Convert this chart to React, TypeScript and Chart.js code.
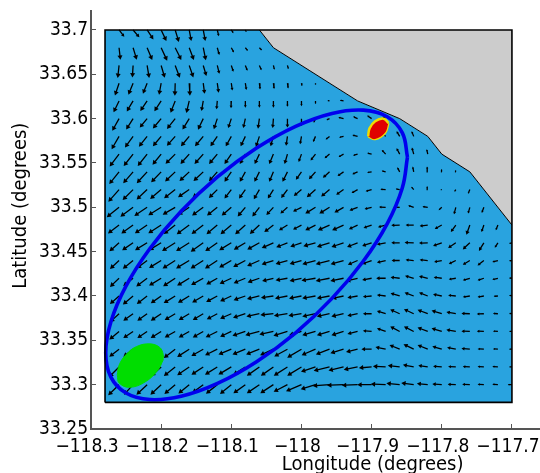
import React, { useEffect, useRef } from "react";
import { Chart, registerables } from "chart.js";

Chart.register(...registerables);

const lons = [
  -118.26, -118.24, -118.22, -118.2, -118.18, -118.16, -118.14, -118.12, -118.1, -118.08,
  -118.06, -118.04, -118.02, -118.0, -117.98, -117.96, -117.94, -117.92, -117.9, -117.88,
  -117.86, -117.84, -117.82, -117.8, -117.78, -117.76, -117.74, -117.72, -117.7,
];
const lats = [
  33.7, 33.68, 33.66, 33.64, 33.62, 33.6, 33.58, 33.56, 33.54, 33.52, 33.5,
  33.48, 33.46, 33.44, 33.42, 33.4, 33.38, 33.36, 33.34, 33.32, 33.3,
];

// Eastward component of the current, one list per latitude row
const uRows = [
  [5, 6, 6, 5, 3.5, 2, 2, 1.5, 2, 1],
  [1.3, 3.5, 5, 6, 6, 4.5, 2.5, 2, 2.5, 2.5, 2.5],
  [-1.3, -0.7, 2, 3.5, 4.5, 4, 3, 2, 2, 2, 2, 1, 1],
  [-4, -4.5, -4, -2, -0.3, 0.7, 1.3, 1.3, 1, 1, 0.7, 0.7, 0.7, 0.5, 0],
  [-5.3, -6, -6.5, -6.5, -4.5, -2.7, -1.7, -0.7, -0.3, 0, 0, 0, 0, 0, 0, -2, -3.5],
  [-6.7, -6.7, -7, -8, -8, -6.5, -5, -3.3, -3, -2, -1.3, -0.7, 0, 0, -1.7, -3, -5, -4.3, -4.3, -3],
  [-7.5, -8, -8, -8, -8, -8, -8, -6.5, -5.3, -4.5, -3.3, -2.7, -1.3, -1.3, -2.3, -3.7, -4.3, -5, -4, -1.3, -3, -2],
  [-9.5, -9.5, -9.5, -8.5, -9.5, -8.5, -8.5, -8, -6.5, -5.3, -4.5, -4, -2.7, -2.7, -4.7, -4.7, -4.7, -4.3, -4.3, -3.7, -3, -1.7, -1],
  [-10, -10, -10.5, -10, -10, -9.5, -9.5, -8, -6.5, -5.3, -4.7, -4, -4.7, -5.3, -6.3, -6.3, -5.7, -5, -4.3, -3.7, -2.3, -1, -0.7, -0.3, -0.3],
  [-11, -10.5, -10.5, -11, -11, -11, -10.5, -8, -6.5, -6, -5.3, -5.3, -6, -7.3, -8.3, -8, -7, -5.7, -5.7, -5, -3.7, -2.3, -0.7, -0.5, -1.3, -1.7],
  [-12.5, -13, -13, -13, -12.5, -11, -11, -10, -9.3, -7.3, -6.7, -6.7, -6.7, -8, -9.7, -9.7, -8.7, -7.7, -6.7, -6.3, -5.7, -5.3, -5, -3, -1.7, -1.7, -2],
  [-11, -11.7, -12.3, -13, -11.5, -12.7, -11.7, -10.7, -10.7, -10, -9.3, -8.7, -8, -8, -9.7, -11.3, -11, -8.3, -7.7, -7.3, -8, -7.7, -7.7, -6.7, -4.7, -3.3, -2.3, -2],
  [-9.3, -10.7, -12, -12, -13.3, -13.3, -12.7, -12, -12, -11.3, -12, -11.3, -10.7, -10.7, -11.7, -12.3, -11.7, -10, -9, -8.3, -8, -8.7, -8.3, -8.3, -7.3, -6.7, -4.7, -3, -2.7],
  [-8.7, -10, -10, -12, -12.7, -13.3, -12.7, -12.3, -12, -12, -12, -11.3, -11.3, -11.3, -13, -13.7, -12.7, -9.3, -9, -8.3, -7.7, -7.7, -7.7, -7.3, -6.7, -6.7, -6, -5.3, -2.7],
  [-8.7, -9.5, -10.7, -12, -12, -12, -12, -10.7, -11.3, -11.3, -11.3, -10.7, -11.3, -11.3, -14, -13.7, -13, -11, -9, -9, -8.7, -8.3, -8.3, -7.7, -6.7, -6.7, -6, -5.3, -2.7],
  [-8.7, -10, -10, -10, -11.3, -11, -10.7, -10.7, -10.7, -11.3, -12, -12, -12, -12, -13, -12.3, -11, -9.7, -8.3, -8.3, -8.7, -8.7, -8.3, -8.3, -7.3, -6.7, -6, -4, -2.7],
  [-8.7, -9.3, -9.3, -10, -10, -10, -10, -10, -10.7, -12, -12.7, -12.7, -13.3, -12.7, -13, -12.3, -11.7, -9.7, -8.3, -8.3, -9, -9.3, -9.7, -9.7, -9, -8, -6.7, -4.7, -2.7],
  [-9.3, -9.3, -9.3, -10, -10, -10, -10, -11.3, -10.7, -12.7, -14, -14, -14, -12, -13, -12.3, -11.7, -9.7, -8.3, -8.3, -9, -9.3, -9.7, -9.7, -9, -8, -6.7, -4.7, -2.7],
  [-9.3, -9.3, -9.3, -9.3, -11.3, -12, -11.7, -12, -12.7, -12.7, -13.3, -13.3, -13.3, -14.7, -14, -13.7, -13, -11, -9.7, -9.7, -9.7, -9.7, -9.7, -9, -8.3, -8, -6, -4.7, -2.7],
  [-10, -10, -10, -10, -11.3, -12, -11.7, -12.3, -13, -12, -12.7, -12.7, -14, -14.7, -14.7, -16.3, -15.3, -13.7, -12.3, -12.3, -11.3, -10.3, -9, -8.3, -7.3, -6.7, -6, -5.3, -2.7],
  [-11, -9, -10.7, -10.7, -10.7, -10.7, -10.7, -11.3, -11.3, -12, -12.7, -13.3, -14, -16, -15, -17.3, -17, -16, -14.3, -15, -13, -12, -10.3, -9, -7.7, -7.3, -6, -5.3, -4],
];

// Northward component of the current, one list per latitude row
const vRows = [
  [-6.5, -7, -9, -10.5, -11.5, -10.5, -10.5, -6, -3, -2],
  [-11.5, -11.5, -12, -13, -12, -12, -12, -7, -4.5, -3, -2.5],
  [-12, -11.5, -12, -12, -12, -11.5, -10, -8, -6, -5, -4.5, -4, -3.5],
  [-12, -11, -10, -11, -12, -12, -10, -9, -7, -6.5, -6, -5.5, -5, -2.7, -1.7],
  [-11, -10, -9.5, -10, -11.5, -11.5, -9.5, -8, -7, -6.5, -6.5, -6.5, -5.5, -5, -3, 0.5, 0.7],
  [-12, -10.5, -8.5, -9.5, -10, -10.5, -10.5, -10, -9, -9, -9.5, -9, -8.5, -7, -4, -1.3, 1.3, 2, 3, 2],
  [-13, -11, -10, -9.5, -9, -9.5, -9.5, -9.5, -9.5, -9.5, -10, -9.5, -9, -7.5, -5.3, -3, -1, 1.3, 1.5, 1.3, 5, 5],
  [-12.5, -12, -12, -10.5, -9.5, -9.5, -9.5, -9.5, -9.5, -9.5, -9.5, -9.5, -9.5, -7.5, -6, -4, -2.7, -1.3, 1, 4, 5.7, 6.3, 4.7],
  [-12.5, -11.5, -11.5, -10.5, -9.5, -9, -9, -9, -9.5, -9.5, -9.5, -9.5, -9.5, -7.5, -7, -5.7, -4, -2.3, -0.7, 1, 4.3, 5, 5, 2.7, 1.7],
  [-12.5, -10.5, -10, -9.3, -8.5, -7.5, -8, -8, -8.5, -8.5, -9.3, -8.5, -8, -6, -7.3, -6.7, -5, -3.3, -1.7, 0.3, 0.7, 2.7, 3.3, 0.3, -2, -4],
  [-10, -9.5, -8.7, -8, -7.3, -7.5, -8, -8, -8, -8.7, -8.7, -7.3, -6, -4, -6, -6, -5, -3, -1.7, 0.3, 0.3, 1.7, 0.7, -2.7, -6.7, -6, -5.3],
  [-8.3, -8.3, -8.3, -8.3, -9, -9.3, -9, -9, -9, -9, -8.7, -6.7, -5, -4.3, -5, -5, -5, -4, -2.7, -2, -0.3, 0, -1, -3.7, -6.7, -9.3, -6.7, -5],
  [-8.3, -7.3, -7.3, -7.3, -8.3, -8.3, -9, -8.3, -7.3, -6.7, -6.7, -5, -4.3, -3.7, -3.3, -4, -4, -4, -3, -1.7, 0, 0.3, -0.3, -3, -5, -6.3, -7.7, -4.7, -0.7],
  [-8, -8, -7.5, -7.3, -8, -8, -8, -8, -7, -6.3, -5.3, -3.7, -3.3, -3.3, -3.7, -3.7, -3.7, -4, -3.3, -2, 0, 0.7, 0.7, -1.3, -3.3, -4, -4.7, -1.3, -0.3],
  [-8.3, -7.5, -8, -7.3, -8, -7.3, -6.7, -6, -5.3, -4.7, -4, -2.7, -2, -2.7, -2.3, -2.7, -2.7, -2.7, -1.7, 0, 1, 2.3, 2, 1, -1, -2, -2, -1.3, 0.3],
  [-7.7, -8.3, -7.7, -7, -7, -6.7, -6.3, -5.7, -5, -4, -3, -1.7, -2.3, -2.3, -2.3, -2.3, -2.3, -1.7, -0.7, 1, 2.7, 3.3, 3.3, 1.7, 0.7, -1, -1, -0.3, 0.7],
  [-8, -6.7, -6.7, -6.7, -6, -6, -6, -5.3, -4.7, -4, -2.7, -1.3, -2, -2, -2.7, -2.7, -2.7, -2, 0, 2.7, 4, 4.3, 3.7, 3, 1.7, 0.3, -0.3, 0.3, 0.3],
  [-7.7, -6.3, -6.3, -6.3, -5.7, -5.7, -5.7, -5.7, -5, -4.3, -3.7, -3, -4.3, -3.7, -3.7, -3.7, -3.7, -2.3, 0.7, 3, 4.7, 4.7, 3.7, 3, 1.7, 0.3, 0.3, 0.3, 0],
  [-7.3, -7.3, -8, -8.7, -8.7, -7.7, -6.7, -6, -5.3, -5.3, -5.3, -6, -7.3, -8.7, -6, -5.3, -4, -2.7, 0, 2, 4, 4.7, 4, 2.7, 1.7, 0.7, 0.3, 0.3, 0],
  [-10, -9, -9, -9, -9, -8.3, -7.7, -7.7, -7.7, -7.7, -9, -9, -9, -9, -5, -4, -3.7, -2.7, -1, 0.7, 1.3, 2, 1.3, 0.7, 0.3, 0.3, 0.3, 0.3, 0],
  [-10.7, -10, -10, -10, -9.3, -8.7, -8, -9, -9.3, -8.7, -8.7, -8.7, -7.3, -6.7, -4.7, -1.3, -0.7, -0.7, 0, 0.7, 1.3, 1.7, 1, 0.7, 0.3, 0.3, 0.3, 0.3, 0],
];

const xTickValues = [-118.3, -118.2, -118.1, -118.0, -117.9, -117.8, -117.7];
const xTickLabels = ["\u2212118.3", "\u2212118.2", "\u2212118.1", "\u2212118", "\u2212117.9", "\u2212117.8", "\u2212117.7"];
const yTickValues = [33.25, 33.3, 33.35, 33.4, 33.45, 33.5, 33.55, 33.6, 33.65, 33.7];
const yTickLabels = ["33.25", "33.3", "33.35", "33.4", "33.45", "33.5", "33.55", "33.6", "33.65", "33.7"];

const frame = [
  { x: -118.28, y: 33.28 }, { x: -118.28, y: 33.7 }, { x: -117.7, y: 33.7 },
  { x: -117.7, y: 33.28 }, { x: -118.28, y: 33.28 },
];
const coast = [
  { x: -118.06, y: 33.7 }, { x: -118.04, y: 33.68 }, { x: -117.988, y: 33.654 },
  { x: -117.92, y: 33.62 }, { x: -117.86, y: 33.6 }, { x: -117.82, y: 33.58 },
  { x: -117.8, y: 33.56 }, { x: -117.76, y: 33.54 }, { x: -117.7, y: 33.48 },
];
const waterEdge = [{ x: -118.28, y: 33.7 }, ...coast];

const searchArea = [
  { x: -117.8489, y: 33.5567 }, { x: -117.8562, y: 33.584 }, { x: -117.8777, y: 33.6022 },
  { x: -117.9118, y: 33.6096 }, { x: -117.9565, y: 33.6059 }, { x: -118.0083, y: 33.5913 },
  { x: -118.064, y: 33.5668 }, { x: -118.1197, y: 33.5342 }, { x: -118.1715, y: 33.4955 },
  { x: -118.216, y: 33.4536 }, { x: -118.2502, y: 33.4111 }, { x: -118.2716, y: 33.371 },
  { x: -118.279, y: 33.3361 }, { x: -118.2718, y: 33.3088 }, { x: -118.2502, y: 33.2906 },
  { x: -118.2161, y: 33.2832 }, { x: -118.1715, y: 33.2869 }, { x: -118.1197, y: 33.3014 },
  { x: -118.064, y: 33.3259 }, { x: -118.0083, y: 33.3585 }, { x: -117.9565, y: 33.3973 },
  { x: -117.912, y: 33.4392 }, { x: -117.8777, y: 33.4817 }, { x: -117.8563, y: 33.5218 },
  { x: -117.8489, y: 33.5567 },
];
const greenUpper = [
  { x: -118.2625, y: 33.311 }, { x: -118.26, y: 33.322 }, { x: -118.25, y: 33.334 },
  { x: -118.235, y: 33.343 }, { x: -118.216, y: 33.346 }, { x: -118.202, y: 33.342 },
  { x: -118.197, y: 33.334 }, { x: -118.197, y: 33.328 },
];
const greenLower = [
  { x: -118.2625, y: 33.311 }, { x: -118.26, y: 33.302 }, { x: -118.245, y: 33.297 },
  { x: -118.223, y: 33.303 }, { x: -118.205, y: 33.316 }, { x: -118.197, y: 33.328 },
];
const redUpper = [
  { x: -117.905, y: 33.58 }, { x: -117.903, y: 33.589 }, { x: -117.895, y: 33.597 },
  { x: -117.883, y: 33.6 }, { x: -117.876, y: 33.595 },
];
const redLower = [
  { x: -117.905, y: 33.58 }, { x: -117.895, y: 33.577 }, { x: -117.881, y: 33.584 },
  { x: -117.876, y: 33.595 },
];

const xTitle = "\u00A0".repeat(20) + "Longitude (degrees)";
const yTitle = "\u00A0".repeat(5) + "Latitude (degrees)";

const LON_PER_UNIT = 0.1 / 70.1;
const LAT_PER_UNIT = 0.05 / 44.3;
const HEAD_AT = 0.8;

const shafts: { x: number; y: number }[] = [];
const heads: { x: number; y: number; angle: number; len: number }[] = [];
uRows.forEach((row, r) => {
  row.forEach((u, c) => {
    const v = vRows[r][c];
    const x0 = lons[c];
    const y0 = lats[r];
    shafts.push({ x: x0, y: y0 });
    shafts.push({ x: x0 + u * HEAD_AT * LON_PER_UNIT, y: y0 + v * HEAD_AT * LAT_PER_UNIT });
    shafts.push({ x: x0, y: NaN });
    heads.push({
      x: x0 + u * HEAD_AT * LON_PER_UNIT,
      y: y0 + v * HEAD_AT * LAT_PER_UNIT,
      angle: (Math.atan2(u, v) * 180) / Math.PI,
      len: Math.hypot(u, v),
    });
  });
});

const AXIS_GREY = "#555555";
const FONT = "'DejaVu Sans Condensed', 'DejaVu Sans', sans-serif";

const noPadding = (s: any) => {
  s.paddingLeft = 0;
  s.paddingRight = 0;
  s.paddingTop = 0;
  s.paddingBottom = 0;
};

export default function App() {
  const ref = useRef<HTMLCanvasElement>(null);

  useEffect(() => {
    document.body.style.margin = "0";
    const chart = new Chart(ref.current as HTMLCanvasElement, {
      type: "scatter",
      data: {
        datasets: [
          {
            label: "frame", data: frame, showLine: true, pointRadius: 0,
            borderColor: "#000000", borderWidth: 1.6, tension: 0,
          },
          {
            label: "red", data: redUpper, showLine: true, pointRadius: 0, tension: 0.4,
            borderColor: "#eedd00", borderWidth: 2.5, backgroundColor: "#e00000", fill: "+1",
          },
          {
            label: "red lower", data: redLower, showLine: true, pointRadius: 0, tension: 0.4,
            borderColor: "#eedd00", borderWidth: 2.5,
          },
          {
            label: "search area", data: searchArea, showLine: true, pointRadius: 0, tension: 0.4,
            borderColor: "#0000ee", borderWidth: 3.6,
          },
          {
            label: "green", data: greenUpper, showLine: true, pointRadius: 0, tension: 0.4,
            borderColor: "#00dd00", borderWidth: 1, backgroundColor: "#00dd00", fill: "+1",
          },
          {
            label: "green lower", data: greenLower, showLine: true, pointRadius: 0, tension: 0.4,
            borderColor: "#00dd00", borderWidth: 1,
          },
          {
            label: "heads", data: heads, showLine: false,
            pointStyle: "triangle", pointBackgroundColor: "#000000", pointBorderWidth: 0,
            pointRadius: (ctx: any) => {
              const p = heads[ctx.dataIndex];
              return p ? Math.min(2.9, p.len * 0.25) : 0;
            },
            pointRotation: (ctx: any) => (heads[ctx.dataIndex] ? heads[ctx.dataIndex].angle : 0),
          },
          {
            label: "shafts", data: shafts, showLine: true, pointRadius: 0, spanGaps: false,
            borderColor: "#000000", borderWidth: 1.3, tension: 0,
          },
          {
            label: "land", data: coast, showLine: true, pointRadius: 0, tension: 0,
            borderColor: "#000000", borderWidth: 1, backgroundColor: "#cccccc", fill: { value: 33.7 },
          },
          {
            label: "water", data: waterEdge, showLine: true, pointRadius: 0, tension: 0,
            borderWidth: 0, backgroundColor: "#29a3df", fill: { value: 33.28 },
          },
        ],
      } as any,
      options: {
        animation: false,
        responsive: false,
        devicePixelRatio: 1,
        layout: { autoPadding: false, padding: { top: 11, right: 0, left: 0, bottom: 0 } },
        plugins: { legend: { display: false }, tooltip: { enabled: false } },
        scales: {
          x: {
            type: "linear",
            min: -118.3,
            max: -117.66,
            afterBuildTicks: (s: any) => { s.ticks = xTickValues.map((value) => ({ value })); },
            afterFit: (s: any) => { s.height = 44; noPadding(s); },
            border: { color: AXIS_GREY, width: 2 },
            grid: { drawOnChartArea: false, drawTicks: true, tickLength: -5, color: AXIS_GREY, tickWidth: 1 },
            ticks: {
              autoSkip: false, maxRotation: 0, minRotation: 0, color: "#000000", padding: 12, labelOffset: -4,
              font: { family: FONT, size: 19 },
              callback: (value: any) => xTickLabels[xTickValues.findIndex((t) => Math.abs(t - value) < 1e-6)],
            },
            title: {
              display: true, text: xTitle, color: "#000000",
              font: { family: FONT, size: 20 }, padding: { top: 0, bottom: -4 },
            },
          },
          y: {
            type: "linear",
            min: 33.25,
            max: 33.7214,
            afterBuildTicks: (s: any) => { s.ticks = yTickValues.map((value) => ({ value })); },
            afterFit: (s: any) => { s.width = 91; noPadding(s); },
            border: { color: AXIS_GREY, width: 2 },
            grid: { drawOnChartArea: false, drawTicks: true, tickLength: -5, color: AXIS_GREY, tickWidth: 1 },
            ticks: {
              autoSkip: false, color: "#000000", padding: 8,
              font: { family: FONT, size: 19 },
              callback: (value: any) => yTickLabels[yTickValues.findIndex((t) => Math.abs(t - value) < 1e-6)],
            },
            title: {
              display: true, text: yTitle, color: "#000000",
              font: { family: FONT, size: 20 }, padding: { top: 9, bottom: 0 },
            },
          },
        },
      } as any,
    });
    return () => chart.destroy();
  }, []);

  return <canvas ref={ref} width={540} height={473} style={{ display: "block" }} />;
}
